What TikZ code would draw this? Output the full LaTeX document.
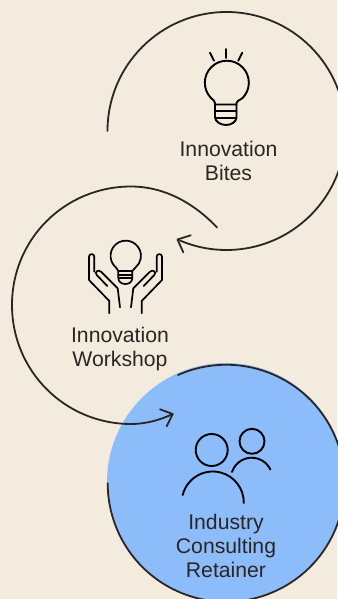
\documentclass[tikz,border=0pt]{standalone}
\usepackage{fontspec}
\setmainfont{Liberation Sans}
\definecolor{bgc}{HTML}{F3ECDE}
\definecolor{bluec}{HTML}{8DBCFB}
\definecolor{inkc}{HTML}{2B2524}
\tikzset{
  ring/.style={draw=inkc,line width=1.8pt,line cap=round},
  icon/.style={draw=black,line width=1.9pt,line cap=round,line join=round},
  lab/.style={text=inkc,font=\fontsize{21.2}{24}\selectfont,align=center,inner sep=0pt}
}
\begin{document}
\begin{tikzpicture}[x=1pt,y=1pt,yscale=-1]
\fill[bgc] (0,0) rectangle (337,599);
\useasboundingbox (0,0) rectangle (337,599);
% blue disc
\fill[bluec] (226,482) circle[radius=119];
% ring arcs
\coordinate (s1) at (107.5,131);
\coordinate (t1) at (177.5,239.5);
\draw[ring] (s1) arc[start angle=180,end angle=473,radius=119];
\draw[ring] (t1) -- (190.7,235.3) (t1) -- (183.3,252.3);
\coordinate (s2) at (217,227.5);
\coordinate (t2) at (172.7,414);
\draw[ring] (s2) .. controls (195,204) and (165,186.5) .. (131,186.5)
   .. controls (65,186.5) and (12,239) .. (12,305)
   .. controls (12,371) and (65,424) .. (131,424)
   .. controls (146,424) and (160,420) .. (t2);
\draw[ring] (t2) -- (160,409.3) (t2) -- (166.7,426.3);
\coordinate (s3) at (178,375);
\draw[ring] (s3) arc[start angle=-114,end angle=180,radius=118.5];
% bulb
\begin{scope}[icon]
\draw (215,104.5) -- (215,103) .. controls (215,100) and (213,101) .. (211,98)
  arc[start angle=136,end angle=404,radius=22] .. controls (239,101) and (237,100) .. (236.5,103) -- (236.5,104.5);
\draw (215,104.5) -- (236.5,104.5) -- (236.5,117) .. controls (236.5,122) and (231,125) .. (226,125) .. controls (221,125) and (215,122) .. (215,117) -- cycle;
\draw (215,111.3) -- (236.5,111.3) (215,118) -- (236.5,118);
\draw (226,49) -- (226,58) (210,52.7) -- (214,60.7) (242.3,52.7) -- (238.3,60.7);
\end{scope}
% hands
\begin{scope}[icon,line width=1.7pt]
\draw (116,267.5) arc[start angle=130,end angle=410,radius=15.2];
\draw (118.3,271) -- (132.3,271) (118.3,275) -- (132.3,275) (118.8,278.3) -- (131.8,278.3);
\draw (116,267.5) -- (118.3,271) -- (118.3,278) .. controls (118.3,282) and (122,284) .. (125.3,284) .. controls (129,284) and (132.3,282) .. (132.3,278) -- (132.3,271) -- (135.5,267.5);
\foreach \m/\o in {1/0,-1/251}{
\begin{scope}[xshift=\o pt,xscale=\m]
\draw (109.3,313.3) -- (109.3,301) -- (89,280) -- (89,256.7) arc[start angle=180,end angle=360,radius=2.65] -- (94.3,271.7);
\draw (107.3,286) -- (96.7,275) .. controls (94,272) and (98.5,269) .. (101,271.7) -- (117.7,288.3) -- (120,307.3);
\end{scope}}
\end{scope}
% people
\begin{scope}[icon]
\draw (211.7,450) circle[radius=16];
\draw (182.7,495) arc[start angle=194,end angle=361,radius=31];
\draw (252,441.3) circle[radius=12.5];
\draw (232,472) arc[start angle=198,end angle=334.5,radius=20.7];
\end{scope}
% labels
\node[lab] (bites) at (228.5,161) {Innovation\\Bites};
\node[lab] (work) at (120,349) {Innovation\\Workshop};
\node[lab] (ret) at (226,545.5) {Industry\\Consulting\\Retainer};
\end{tikzpicture}
\end{document}
